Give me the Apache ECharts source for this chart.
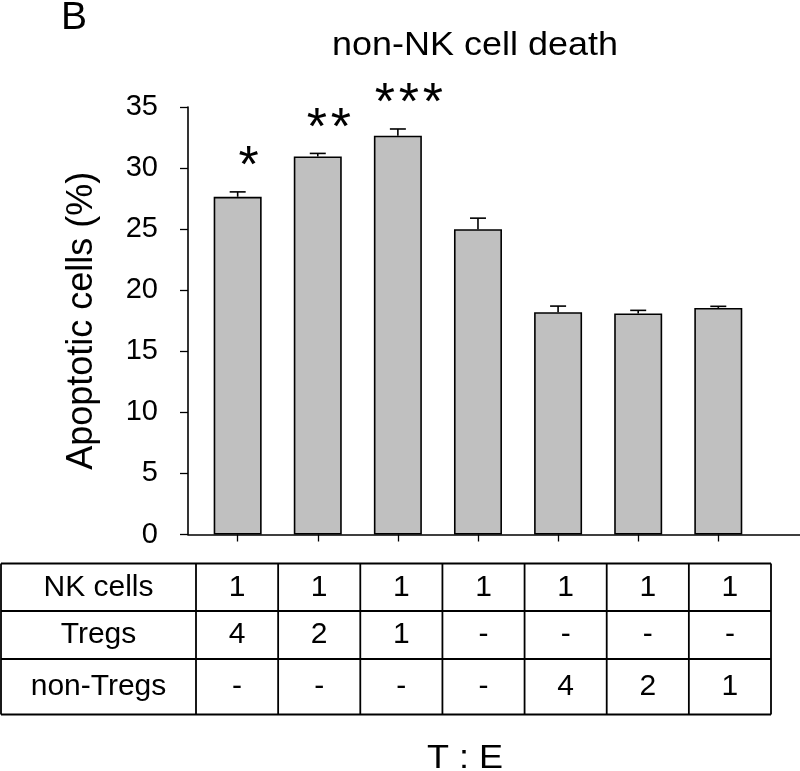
<!DOCTYPE html>
<html>
<head>
<meta charset="utf-8">
<script src="https://cdn.jsdelivr.net/npm/echarts@6/dist/echarts.min.js"></script>
<style>
  html, body { margin: 0; padding: 0; background: #fff; }
  #chart { width: 800px; height: 771px; }
</style>
</head>
<body>
<div id="chart"></div>
<script>
// ---- data ----
const categories = ['NK+Tregs 1:4', 'NK+Tregs 1:2', 'NK+Tregs 1:1', 'NK alone', 'NK+non-Tregs 1:4', 'NK+non-Tregs 1:2', 'NK+non-Tregs 1:1'];
const apoptotic = [27.65, 30.95, 32.65, 25.0, 18.2, 18.1, 18.55];
const errorTop = [28.05, 31.2, 33.2, 25.9, 18.7, 18.35, 18.68];
const significance = ['*', '**', '***', '', '', '', ''];
const yTicks = [0, 5, 10, 15, 20, 25, 30, 35];
const tableRowNames = ['NK cells', 'Tregs', 'non-Tregs'];
const rowNK = ['1', '1', '1', '1', '1', '1', '1'];
const rowTregs = ['4', '2', '1', '-', '-', '-', '-'];
const rowNonTregs = ['-', '-', '-', '-', '4', '2', '1'];
const chartTitle = 'non-NK cell death';
const panelLetter = 'B';
const yAxisName = 'Apoptotic cells (%)';
const xAxisName = 'T : E';

// ---- layout ----
const FONT = '"Liberation Sans", Arial, sans-serif';
const gridLeft = 188, gridTop = 107, gridBottomY = 534.5;
const xMin = -0.62, xMax = 7.02;

const barData = apoptotic.map((v, i) => [i, v]);
const errData = apoptotic.map((v, i) => [i, v, errorTop[i]]);
const starData = [];
significance.forEach((s, i) => { if (s) starData.push([i, errorTop[i], s.length]); });

// table graphics
const tableRows = [rowNK, rowTregs, rowNonTregs];
const tblLeft = 1, firstColRight = 196, tblRight = 771;
const rowLines = [563.5, 611, 659, 714.5];
const colW = (tblRight - firstColRight) / categories.length;
const graphics = [];
const lineStyle = { stroke: '#000', lineWidth: 1.8 };
rowLines.forEach(y => graphics.push({ type: 'line', shape: { x1: tblLeft, y1: y, x2: tblRight, y2: y }, style: lineStyle, silent: true }));
const colXs = [tblLeft, firstColRight];
for (let c = 1; c <= categories.length; c++) colXs.push(firstColRight + c * colW);
colXs.forEach(x => graphics.push({ type: 'line', shape: { x1: x, y1: rowLines[0], x2: x, y2: rowLines[rowLines.length - 1] }, style: lineStyle, silent: true }));
tableRows.forEach((row, r) => {
  const cy = (rowLines[r] + rowLines[r + 1]) / 2;
  graphics.push({ type: 'text', x: (tblLeft + firstColRight) / 2, y: cy,
    style: { text: tableRowNames[r], font: '30px ' + FONT, fill: '#000', align: 'center', verticalAlign: 'middle' } });
  row.forEach((t, c) => {
    graphics.push({ type: 'text', x: firstColRight + (c + 0.5) * colW, y: cy,
      style: { text: t, font: '30px ' + FONT, fill: '#000', align: 'center', verticalAlign: 'middle' } });
  });
});
graphics.push({ type: 'text', x: 465, y: 759, scaleX: 1.06, style: { text: xAxisName, font: '34px ' + FONT, fill: '#000', align: 'center', verticalAlign: 'middle' } });
graphics.push({ type: 'text', x: 475, y: 46, scaleX: 1.09, style: { text: chartTitle, font: '33px ' + FONT, fill: '#000', align: 'center', verticalAlign: 'middle' } });
graphics.push({ type: 'text', x: 61, y: 18.5, style: { text: panelLetter, font: '39px ' + FONT, fill: '#000', align: 'left', verticalAlign: 'middle' } });

const chart = echarts.init(document.getElementById('chart'), null, { renderer: 'canvas' });
chart.setOption({
  animation: false,
  backgroundColor: '#fff',
  textStyle: { fontFamily: FONT },
  grid: { left: gridLeft, top: gridTop, right: 0, height: gridBottomY - gridTop, containLabel: false },
  xAxis: {
    type: 'value', min: xMin, max: xMax,
    axisLine: { show: true, onZero: false, lineStyle: { color: '#000', width: 1.6 } },
    axisTick: { show: true, inside: false, length: 7, customValues: categories.map((c, i) => i), lineStyle: { color: '#000', width: 1.3 } },
    axisLabel: { show: false },
    splitLine: { show: false }
  },
  yAxis: {
    type: 'value', min: yTicks[0], max: yTicks[yTicks.length - 1], interval: yTicks[1] - yTicks[0],
    name: yAxisName, nameLocation: 'middle', nameGap: 88,
    nameTextStyle: { fontSize: 36, color: '#000', fontFamily: FONT },
    axisLine: { show: true, onZero: false, lineStyle: { color: '#000', width: 1.6 } },
    axisTick: { show: true, inside: false, length: 8, lineStyle: { color: '#000', width: 1.3 } },
    axisLabel: { fontSize: 29, color: '#000', margin: 30, fontFamily: FONT },
    splitLine: { show: false }
  },
  series: [
    {
      type: 'bar', data: barData, barWidth: 48, z: 2,
      itemStyle: { color: '#c0c0c0', borderColor: '#000', borderWidth: 1.6 }
    },
    {
      type: 'custom', data: errData, z: 3,
      renderItem: function (params, api) {
        const x = api.value(0);
        const p1 = api.coord([x, api.value(1)]);
        const p2 = api.coord([x, api.value(2)]);
        return { type: 'group', children: [
          { type: 'line', shape: { x1: p1[0], y1: p1[1], x2: p2[0], y2: p2[1] }, style: { stroke: '#000', lineWidth: 1.6 } },
          { type: 'line', shape: { x1: p2[0] - 8, y1: p2[1], x2: p2[0] + 8, y2: p2[1] }, style: { stroke: '#000', lineWidth: 1.6 } }
        ] };
      }
    },
    {
      type: 'custom', data: starData, z: 4,
      renderItem: function (params, api) {
        const p = api.coord([api.value(0), api.value(1)]);
        const n = api.value(2);
        const cx = p[0] + 11, cy = p[1] - 36;
        const children = [];
        for (let k = 0; k < n; k++) {
          children.push({ type: 'text', x: cx + (k - (n - 1) / 2) * 24, y: cy + 12,
            style: { text: '*', font: '52px ' + FONT, fill: '#000', align: 'center', verticalAlign: 'middle' } });
        }
        return { type: 'group', children: children };
      }
    }
  ],
  graphic: graphics
});
</script>
</body>
</html>
